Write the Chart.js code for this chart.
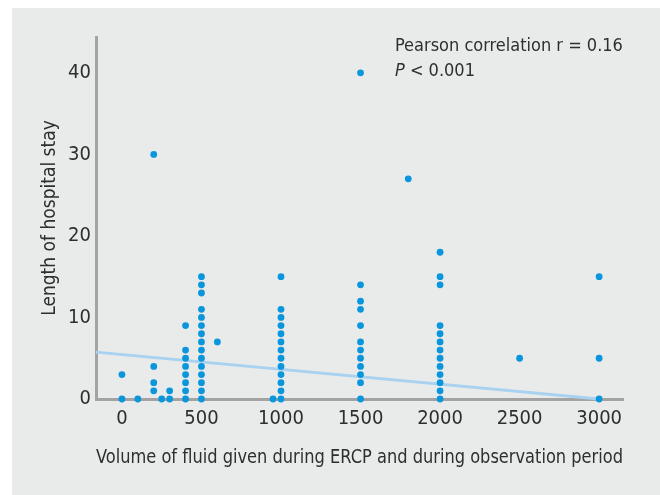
<!DOCTYPE html>
<html>
<head>
<meta charset="utf-8">
<script src="https://cdn.jsdelivr.net/npm/chart.js@4/dist/chart.umd.min.js"></script>
<style>
  html, body { margin: 0; padding: 0; background: #ffffff; }
  #wrap { width: 660px; height: 495px; position: relative; }
</style>
</head>
<body>
<div id="wrap"><canvas id="chart_fluid" width="660" height="495"></canvas></div>
<script>
// fluid volume (x) vs length of stay (y), one entry per patient
const fluid_volume = [
  0, 0,
  100,
  200, 200, 200, 200,
  250,
  300, 300,
  400, 400, 400, 400, 400, 400, 400, 400,
  500, 500, 500, 500, 500, 500, 500, 500, 500, 500, 500, 500, 500, 500, 500,
  600,
  950,
  1000, 1000, 1000, 1000, 1000, 1000, 1000, 1000, 1000, 1000, 1000, 1000, 1000,
  1500, 1500, 1500, 1500, 1500, 1500, 1500, 1500, 1500, 1500, 1500, 1500,
  1800,
  2000, 2000, 2000, 2000, 2000, 2000, 2000, 2000, 2000, 2000, 2000, 2000, 2000,
  2500,
  3000, 3000, 3000
];
const hospital_stay = [
  0, 3,
  0,
  1, 2, 4, 30,
  0,
  0, 1,
  0, 1, 2, 3, 4, 5, 6, 9,
  0, 1, 2, 3, 4, 5, 6, 7, 8, 9, 10, 11, 13, 14, 15,
  7,
  0,
  0, 1, 2, 3, 4, 5, 6, 7, 8, 9, 10, 11, 15,
  0, 2, 3, 4, 5, 6, 7, 9, 11, 12, 14, 40,
  27,
  0, 1, 2, 3, 4, 5, 6, 7, 8, 9, 14, 15, 18,
  5,
  0, 5, 15
];

// fitted line end points
const trend_x = [ -163, 3000 ];
const trend_y = [ 5.75, 0 ];

const x_ticks = [ 0, 500, 1000, 1500, 2000, 2500, 3000 ];
const y_ticks = [ 0, 10, 20, 30, 40 ];

const note_line1 = 'Pearson correlation r = 0.16';
const note_p = 'P';
const note_rest = ' < 0.001';

const FONT = "'Liberation Sans Narrow', 'DejaVu Sans Condensed', sans-serif";
const TEXT_COLOR = '#2e2e2e';
const AXIS_COLOR = '#a3a3a3';

function zip_points( xs, ys ) {
  return xs.map( ( x, i ) => ( { x: x, y: ys[ i ] } ) );
}

const panel_plugin = {
  id: 'panel_bg',
  beforeDraw( chart ) {
    const ctx = chart.ctx;
    ctx.save();
    ctx.fillStyle = '#e9ebea';
    ctx.fillRect( 12, 8, 648, 487 );
    ctx.restore();
  }
};

const note_plugin = {
  id: 'corr_note',
  afterDraw( chart ) {
    const ctx = chart.ctx;
    ctx.save();
    ctx.fillStyle = TEXT_COLOR;
    ctx.textBaseline = 'middle';
    ctx.font = '18px ' + FONT;
    ctx.fillText( note_line1, 395, 46 );
    ctx.font = 'italic 18px ' + FONT;
    ctx.fillText( note_p, 395, 71 );
    const w = ctx.measureText( note_p ).width;
    ctx.font = '18px ' + FONT;
    ctx.fillText( note_rest, 395 + w, 71 );
    ctx.restore();
  }
};

function create_chart( chart_id ) {
  const ctx = document.getElementById( chart_id ).getContext( '2d' );
  return new Chart( ctx, {
    type: 'scatter',
    data: {
      datasets: [ {
        label: 'patients',
        data: zip_points( fluid_volume, hospital_stay ),
        backgroundColor: '#0a96dc',
        borderWidth: 0,
        pointRadius: 3.4,
        pointHoverRadius: 3.4
      }, {
        label: 'fit',
        type: 'line',
        data: zip_points( trend_x, trend_y ),
        borderColor: '#a8d2f0',
        borderWidth: 3,
        pointRadius: 0,
        fill: false
      } ]
    },
    options: {
      responsive: false,
      animation: false,
      clip: false,
      layout: { padding: { top: 37, right: 37, left: 0, bottom: 0 } },
      plugins: {
        legend: { display: false },
        tooltip: { enabled: false }
      },
      scales: {
        x: {
          type: 'linear',
          min: -163,
          max: 3150,
          afterBuildTicks: scale => { scale.ticks = x_ticks.map( v => ( { value: v } ) ); },
          afterFit: scale => { scale.height = 96; },
          grid: { display: false, drawTicks: false },
          border: { color: AXIS_COLOR, width: 3 },
          ticks: {
            color: TEXT_COLOR,
            font: { family: FONT, size: 20 },
            padding: 8,
            maxRotation: 0,
            callback: v => String( v )
          },
          title: {
            display: true,
            text: 'Volume of fluid given during ERCP and during observation period',
            color: TEXT_COLOR,
            font: { family: FONT, size: 19 },
            padding: { top: 0, bottom: 26 }
          }
        },
        y: {
          type: 'linear',
          min: 0,
          max: 44.4,
          afterBuildTicks: scale => { scale.ticks = y_ticks.map( v => ( { value: v } ) ); },
          afterFit: scale => { scale.width = 96; },
          grid: { display: false, drawTicks: false },
          border: { color: AXIS_COLOR, width: 3 },
          ticks: {
            color: TEXT_COLOR,
            font: { family: FONT, size: 20 },
            padding: 5,
            callback: v => String( v )
          },
          title: {
            display: true,
            text: 'Length of hospital stay',
            color: TEXT_COLOR,
            font: { family: FONT, size: 19 },
            padding: { top: 39, bottom: 0 }
          }
        }
      }
    },
    plugins: [ panel_plugin, note_plugin ]
  } );
}

document.addEventListener( 'DOMContentLoaded', function () {
  create_chart( 'chart_fluid' );
} );
</script>
</body>
</html>
